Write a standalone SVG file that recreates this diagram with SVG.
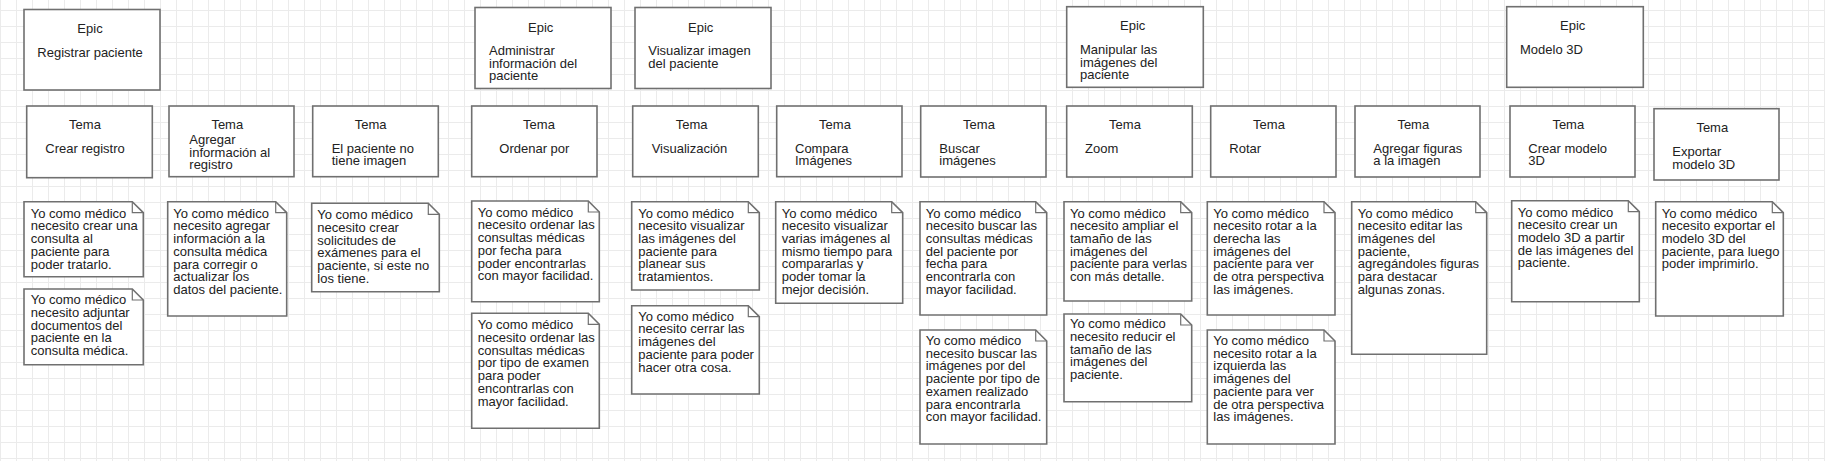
<svg xmlns="http://www.w3.org/2000/svg" width="1825" height="461" viewBox="0 0 1825 461">
<defs>
<pattern id="grid" width="16" height="16" patternUnits="userSpaceOnUse" x="0" y="10">
<path d="M0.5 0V16M0 0.5H16" fill="none" stroke="#ebebeb" stroke-width="1"/>
</pattern>
<style>
.box{fill:#fff;stroke:#707070;stroke-width:1.6}
.fold{fill:none;stroke:#707070;stroke-width:1.2}
.t{font-family:"Liberation Sans",Arial,sans-serif;font-size:13px;fill:#222}
.c{text-anchor:middle}
</style>
</defs>
<rect width="1825" height="461" fill="#fff"/>
<rect width="1825" height="461" fill="url(#grid)"/>

<g id="epics">
<g id="epic1"><rect class="box" x="24" y="9.5" width="136" height="80.5"/><text class="t c" x="90" y="33">Epic</text><text class="t" x="37.3" y="57">Registrar paciente</text></g>
<g id="epic2"><rect class="box" x="475" y="7.5" width="136" height="81"/><text class="t c" x="540.7" y="31.7">Epic</text><text class="t" x="489" y="55"><tspan x="489">Administrar</tspan><tspan x="489" dy="12.7">información del</tspan><tspan x="489" dy="12.7">paciente</tspan></text></g>
<g id="epic3"><rect class="box" x="635" y="7.5" width="136" height="81"/><text class="t c" x="700.7" y="31.7">Epic</text><text class="t" x="648.3" y="55"><tspan x="648.3">Visualizar imagen</tspan><tspan x="648.3" dy="12.7">del paciente</tspan></text></g>
<g id="epic4"><rect class="box" x="1066.7" y="6.7" width="136.6" height="80.6"/><text class="t c" x="1132.7" y="30">Epic</text><text class="t" x="1080" y="54"><tspan x="1080">Manipular las</tspan><tspan x="1080" dy="12.7">imágenes del</tspan><tspan x="1080" dy="12.7">paciente</tspan></text></g>
<g id="epic5"><rect class="box" x="1506.7" y="6.7" width="136.6" height="80.6"/><text class="t c" x="1572.7" y="30">Epic</text><text class="t" x="1520" y="54">Modelo 3D</text></g>
</g>

<g id="temas">
<g id="tema1"><rect class="box" x="26.7" y="106" width="125.6" height="71.7"/><text class="t c" x="85" y="129.3">Tema</text><text class="t" x="45.3" y="152.7">Crear registro</text></g>
<g id="tema2"><rect class="box" x="169" y="106" width="125" height="70.7"/><text class="t c" x="227.3" y="129.3">Tema</text><text class="t" x="189.3" y="144"><tspan x="189.3">Agregar</tspan><tspan x="189.3" dy="12.7">información al</tspan><tspan x="189.3" dy="12.7">registro</tspan></text></g>
<g id="tema3"><rect class="box" x="312.7" y="106" width="125.6" height="70.7"/><text class="t c" x="370.7" y="129.3">Tema</text><text class="t" x="331.7" y="152.7"><tspan x="331.7">El paciente no</tspan><tspan x="331.7" dy="12.7">tiene imagen</tspan></text></g>
<g id="tema4"><rect class="box" x="471.7" y="106" width="125.3" height="70.7"/><text class="t c" x="539" y="129.3">Tema</text><text class="t" x="499.3" y="152.7">Ordenar por</text></g>
<g id="tema5"><rect class="box" x="632.7" y="106" width="125.6" height="70.7"/><text class="t c" x="691.7" y="129.3">Tema</text><text class="t" x="651.7" y="152.7">Visualización</text></g>
<g id="tema6"><rect class="box" x="776.7" y="106" width="125.3" height="70.7"/><text class="t c" x="835" y="129.3">Tema</text><text class="t" x="795" y="152.7"><tspan x="795">Compara</tspan><tspan x="795" dy="12.7">Imágenes</tspan></text></g>
<g id="tema7"><rect class="box" x="920.7" y="106" width="125.3" height="71"/><text class="t c" x="979" y="129.3">Tema</text><text class="t" x="939.3" y="152.7"><tspan x="939.3">Buscar</tspan><tspan x="939.3" dy="12.7">imágenes</tspan></text></g>
<g id="tema8"><rect class="box" x="1066.7" y="106" width="125.6" height="71"/><text class="t c" x="1125" y="129.3">Tema</text><text class="t" x="1085" y="152.7">Zoom</text></g>
<g id="tema9"><rect class="box" x="1210.7" y="106" width="125.3" height="71"/><text class="t c" x="1269" y="129.3">Tema</text><text class="t" x="1229.3" y="152.7">Rotar</text></g>
<g id="tema10"><rect class="box" x="1355" y="106" width="125" height="71"/><text class="t c" x="1413.3" y="129.3">Tema</text><text class="t" x="1373.3" y="152.7"><tspan x="1373.3">Agregar figuras</tspan><tspan x="1373.3" dy="12.7">a la imagen</tspan></text></g>
<g id="tema11"><rect class="box" x="1510" y="106" width="125" height="71"/><text class="t c" x="1568.3" y="129.3">Tema</text><text class="t" x="1528.3" y="152.7"><tspan x="1528.3">Crear modelo</tspan><tspan x="1528.3" dy="12.7">3D</tspan></text></g>
<g id="tema12"><rect class="box" x="1654" y="108.7" width="125" height="71.3"/><text class="t c" x="1712.3" y="131.7">Tema</text><text class="t" x="1672.3" y="156"><tspan x="1672.3">Exportar</tspan><tspan x="1672.3" dy="12.7">modelo 3D</tspan></text></g>
</g>

<g id="notes">
<g id="note1"><path class="box" d="M24 201.7H132.3L143.3 212.7V276.7H24Z"/><path class="fold" d="M132.3 201.7V212.7H143.3"/><text class="t" x="30.7" y="217.7"><tspan x="30.7">Yo como médico</tspan><tspan x="30.7" dy="12.7">necesito crear una</tspan><tspan x="30.7" dy="12.7">consulta al</tspan><tspan x="30.7" dy="12.7">paciente para</tspan><tspan x="30.7" dy="12.7">poder tratarlo.</tspan></text></g>
<g id="note2"><path class="box" d="M24 289H132.3L143.3 300V364.7H24Z"/><path class="fold" d="M132.3 289V300H143.3"/><text class="t" x="30.7" y="304.3"><tspan x="30.7">Yo como médico</tspan><tspan x="30.7" dy="12.7">necesito adjuntar</tspan><tspan x="30.7" dy="12.7">documentos del</tspan><tspan x="30.7" dy="12.7">paciente en la</tspan><tspan x="30.7" dy="12.7">consulta médica.</tspan></text></g>
<g id="note3"><path class="box" d="M167.7 201.7H275.7L286.7 212.7V316H167.7Z"/><path class="fold" d="M275.7 201.7V212.7H286.7"/><text class="t" x="173.3" y="217.7"><tspan x="173.3">Yo como médico</tspan><tspan x="173.3" dy="12.7">necesito agregar</tspan><tspan x="173.3" dy="12.7">información a la</tspan><tspan x="173.3" dy="12.7">consulta médica</tspan><tspan x="173.3" dy="12.7">para corregir o</tspan><tspan x="173.3" dy="12.7">actualizar los</tspan><tspan x="173.3" dy="12.7">datos del paciente.</tspan></text></g>
<g id="note4"><path class="box" d="M311.7 203.3H428.3L439.3 214.3V291.7H311.7Z"/><path class="fold" d="M428.3 203.3V214.3H439.3"/><text class="t" x="317.3" y="219.3"><tspan x="317.3">Yo como médico</tspan><tspan x="317.3" dy="12.7">necesito crear</tspan><tspan x="317.3" dy="12.7">solicitudes de</tspan><tspan x="317.3" dy="12.7">exámenes para el</tspan><tspan x="317.3" dy="12.7">paciente, si este no</tspan><tspan x="317.3" dy="12.7">los tiene.</tspan></text></g>
<g id="note5"><path class="box" d="M471.7 201H588.3L599.3 212V301.7H471.7Z"/><path class="fold" d="M588.3 201V212H599.3"/><text class="t" x="477.7" y="216.7"><tspan x="477.7">Yo como médico</tspan><tspan x="477.7" dy="12.7">necesito ordenar las</tspan><tspan x="477.7" dy="12.7">consultas médicas</tspan><tspan x="477.7" dy="12.7">por fecha para</tspan><tspan x="477.7" dy="12.7">poder encontrarlas</tspan><tspan x="477.7" dy="12.7">con mayor facilidad.</tspan></text></g>
<g id="note6"><path class="box" d="M471.7 313.3H588.3L599.3 324.3V428.3H471.7Z"/><path class="fold" d="M588.3 313.3V324.3H599.3"/><text class="t" x="477.7" y="329.3"><tspan x="477.7">Yo como médico</tspan><tspan x="477.7" dy="12.7">necesito ordenar las</tspan><tspan x="477.7" dy="12.7">consultas médicas</tspan><tspan x="477.7" dy="12.7">por tipo de examen</tspan><tspan x="477.7" dy="12.7">para poder</tspan><tspan x="477.7" dy="12.7">encontrarlas con</tspan><tspan x="477.7" dy="12.7">mayor facilidad.</tspan></text></g>
<g id="note7"><path class="box" d="M631.7 201.7H748.3L759.3 212.7V290H631.7Z"/><path class="fold" d="M748.3 201.7V212.7H759.3"/><text class="t" x="638.3" y="217.5"><tspan x="638.3">Yo como médico</tspan><tspan x="638.3" dy="12.7">necesito visualizar</tspan><tspan x="638.3" dy="12.7">las imágenes del</tspan><tspan x="638.3" dy="12.7">paciente para</tspan><tspan x="638.3" dy="12.7">planear sus</tspan><tspan x="638.3" dy="12.7">tratamientos.</tspan></text></g>
<g id="note8"><path class="box" d="M631.7 305.7H748.3L759.3 316.7V394H631.7Z"/><path class="fold" d="M748.3 305.7V316.7H759.3"/><text class="t" x="638.3" y="320.7"><tspan x="638.3">Yo como médico</tspan><tspan x="638.3" dy="12.7">necesito cerrar las</tspan><tspan x="638.3" dy="12.7">imágenes del</tspan><tspan x="638.3" dy="12.7">paciente para poder</tspan><tspan x="638.3" dy="12.7">hacer otra cosa.</tspan></text></g>
<g id="note9"><path class="box" d="M775.7 201.7H891.7L902.7 212.7V303.3H775.7Z"/><path class="fold" d="M891.7 201.7V212.7H902.7"/><text class="t" x="781.7" y="217.5"><tspan x="781.7">Yo como médico</tspan><tspan x="781.7" dy="12.7">necesito visualizar</tspan><tspan x="781.7" dy="12.7">varias imágenes al</tspan><tspan x="781.7" dy="12.7">mismo tiempo para</tspan><tspan x="781.7" dy="12.7">compararlas y</tspan><tspan x="781.7" dy="12.7">poder tomar la</tspan><tspan x="781.7" dy="12.7">mejor decisión.</tspan></text></g>
<g id="note10"><path class="box" d="M920 201.7H1035.7L1046.7 212.7V315H920Z"/><path class="fold" d="M1035.7 201.7V212.7H1046.7"/><text class="t" x="925.7" y="217.5"><tspan x="925.7">Yo como médico</tspan><tspan x="925.7" dy="12.7">necesito buscar las</tspan><tspan x="925.7" dy="12.7">consultas médicas</tspan><tspan x="925.7" dy="12.7">del paciente por</tspan><tspan x="925.7" dy="12.7">fecha para</tspan><tspan x="925.7" dy="12.7">encontrarla con</tspan><tspan x="925.7" dy="12.7">mayor facilidad.</tspan></text></g>
<g id="note11"><path class="box" d="M920 330H1035.7L1046.7 341V444H920Z"/><path class="fold" d="M1035.7 330V341H1046.7"/><text class="t" x="925.7" y="345"><tspan x="925.7">Yo como médico</tspan><tspan x="925.7" dy="12.7">necesito buscar las</tspan><tspan x="925.7" dy="12.7">imágenes por del</tspan><tspan x="925.7" dy="12.7">paciente por tipo de</tspan><tspan x="925.7" dy="12.7">examen realizado</tspan><tspan x="925.7" dy="12.7">para encontrarla</tspan><tspan x="925.7" dy="12.7">con mayor facilidad.</tspan></text></g>
<g id="note12"><path class="box" d="M1064 201.7H1180.7L1191.7 212.7V301H1064Z"/><path class="fold" d="M1180.7 201.7V212.7H1191.7"/><text class="t" x="1070" y="217.5"><tspan x="1070">Yo como médico</tspan><tspan x="1070" dy="12.7">necesito ampliar el</tspan><tspan x="1070" dy="12.7">tamaño de las</tspan><tspan x="1070" dy="12.7">imágenes del</tspan><tspan x="1070" dy="12.7">paciente para verlas</tspan><tspan x="1070" dy="12.7">con más detalle.</tspan></text></g>
<g id="note13"><path class="box" d="M1064 314H1180.7L1191.7 325V401.7H1064Z"/><path class="fold" d="M1180.7 314V325H1191.7"/><text class="t" x="1070" y="328.3"><tspan x="1070">Yo como médico</tspan><tspan x="1070" dy="12.7">necesito reducir el</tspan><tspan x="1070" dy="12.7">tamaño de las</tspan><tspan x="1070" dy="12.7">imágenes del</tspan><tspan x="1070" dy="12.7">paciente.</tspan></text></g>
<g id="note14"><path class="box" d="M1207.3 201.7H1324L1335 212.7V315H1207.3Z"/><path class="fold" d="M1324 201.7V212.7H1335"/><text class="t" x="1213.3" y="217.5"><tspan x="1213.3">Yo como médico</tspan><tspan x="1213.3" dy="12.7">necesito rotar a la</tspan><tspan x="1213.3" dy="12.7">derecha las</tspan><tspan x="1213.3" dy="12.7">imágenes del</tspan><tspan x="1213.3" dy="12.7">paciente para ver</tspan><tspan x="1213.3" dy="12.7">de otra perspectiva</tspan><tspan x="1213.3" dy="12.7">las imágenes.</tspan></text></g>
<g id="note15"><path class="box" d="M1207.3 330H1324L1335 341V444H1207.3Z"/><path class="fold" d="M1324 330V341H1335"/><text class="t" x="1213.3" y="345"><tspan x="1213.3">Yo como médico</tspan><tspan x="1213.3" dy="12.7">necesito rotar a la</tspan><tspan x="1213.3" dy="12.7">izquierda las</tspan><tspan x="1213.3" dy="12.7">imágenes del</tspan><tspan x="1213.3" dy="12.7">paciente para ver</tspan><tspan x="1213.3" dy="12.7">de otra perspectiva</tspan><tspan x="1213.3" dy="12.7">las imágenes.</tspan></text></g>
<g id="note16"><path class="box" d="M1351.7 201.7H1475.7L1486.7 212.7V354.3H1351.7Z"/><path class="fold" d="M1475.7 201.7V212.7H1486.7"/><text class="t" x="1357.7" y="217.5"><tspan x="1357.7">Yo como médico</tspan><tspan x="1357.7" dy="12.7">necesito editar las</tspan><tspan x="1357.7" dy="12.7">imágenes del</tspan><tspan x="1357.7" dy="12.7">paciente,</tspan><tspan x="1357.7" dy="12.7">agregándoles figuras</tspan><tspan x="1357.7" dy="12.7">para destacar</tspan><tspan x="1357.7" dy="12.7">algunas zonas.</tspan></text></g>
<g id="note17"><path class="box" d="M1511.7 200.7H1628.3L1639.3 211.7V301.7H1511.7Z"/><path class="fold" d="M1628.3 200.7V211.7H1639.3"/><text class="t" x="1517.7" y="216.5"><tspan x="1517.7">Yo como médico</tspan><tspan x="1517.7" dy="12.7">necesito crear un</tspan><tspan x="1517.7" dy="12.7">modelo 3D a partir</tspan><tspan x="1517.7" dy="12.7">de las imágenes del</tspan><tspan x="1517.7" dy="12.7">paciente.</tspan></text></g>
<g id="note18"><path class="box" d="M1655.7 201.7H1772.3L1783.3 212.7V316H1655.7Z"/><path class="fold" d="M1772.3 201.7V212.7H1783.3"/><text class="t" x="1661.7" y="217.5"><tspan x="1661.7">Yo como médico</tspan><tspan x="1661.7" dy="12.7">necesito exportar el</tspan><tspan x="1661.7" dy="12.7">modelo 3D del</tspan><tspan x="1661.7" dy="12.7">paciente, para luego</tspan><tspan x="1661.7" dy="12.7">poder imprimirlo.</tspan></text></g>
</g>

<g id="connectors"/>
</svg>
